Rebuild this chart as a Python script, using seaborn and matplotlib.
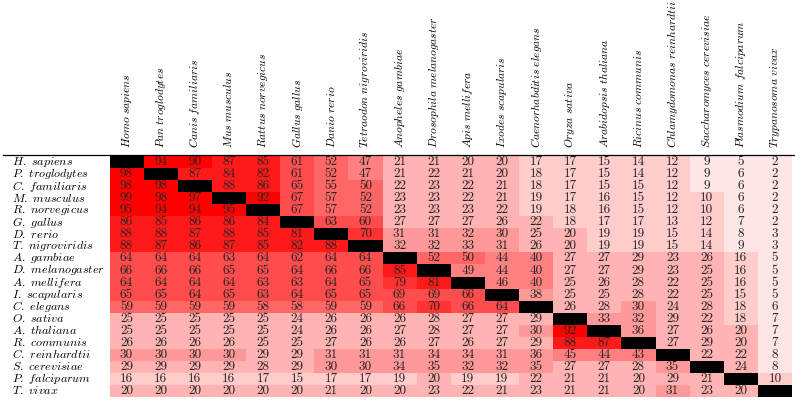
import numpy as np
import pandas as pd
import matplotlib
matplotlib.use("Agg")
import matplotlib.pyplot as plt
import seaborn as sns
from matplotlib.colors import ListedColormap

#%% data: percentage identity between species (diagonal left empty)

row_names = ["H. sapiens", "P. troglodytes", "C. familiaris", "M. musculus",
             "R. norvegicus", "G. gallus", "D. rerio", "T. nigroviridis",
             "A. gambiae", "D. melanogaster", "A. mellifera", "I. scapularis",
             "C. elegans", "O. sativa", "A. thaliana", "R. communis",
             "C. reinhardtii", "S. cerevisiae", "P. falciparum", "T. vivax"]

col_names = ["Homo sapiens", "Pan troglodytes", "Canis familiaris", "Mus musculus",
             "Rattus norvegicus", "Gallus gallus", "Danio rerio",
             "Tetraodon nigroviridis", "Anopheles gambiae", "Drosophila melanogaster",
             "Apis mellifera", "Ixodes scapularis", "Caenorhabditis elegans",
             "Oryza sativa", "Arabidopsis thaliana", "Ricinus communis",
             "Chlamydomonas reinhardtii", "Saccharomyces cerevisiae",
             "Plasmodium falciparum", "Trypanosoma vivax"]

identity = [
    [None, 94, 90, 87, 85, 61, 52, 47, 21, 21, 20, 20, 17, 17, 15, 14, 12, 9, 5, 2],
    [98, None, 87, 84, 82, 61, 52, 47, 21, 22, 21, 20, 18, 17, 15, 14, 12, 9, 6, 2],
    [98, 98, None, 88, 86, 65, 55, 50, 22, 23, 22, 21, 18, 17, 15, 15, 12, 9, 6, 2],
    [99, 98, 97, None, 92, 67, 57, 52, 23, 23, 22, 21, 19, 17, 16, 15, 12, 10, 6, 2],
    [95, 94, 94, 95, None, 67, 57, 52, 23, 23, 23, 22, 19, 18, 16, 15, 12, 10, 6, 2],
    [86, 85, 86, 86, 84, None, 63, 60, 27, 27, 27, 26, 22, 18, 17, 17, 13, 12, 7, 2],
    [88, 88, 87, 88, 85, 81, None, 70, 31, 31, 32, 30, 25, 20, 19, 19, 15, 14, 8, 3],
    [88, 87, 86, 87, 85, 82, 88, None, 32, 32, 33, 31, 26, 20, 19, 19, 15, 14, 9, 3],
    [64, 64, 64, 63, 64, 62, 64, 64, None, 52, 50, 44, 40, 27, 27, 29, 23, 26, 16, 5],
    [66, 66, 66, 65, 65, 64, 66, 66, 85, None, 49, 44, 40, 27, 27, 29, 23, 25, 16, 5],
    [64, 64, 64, 64, 63, 63, 64, 65, 79, 81, None, 46, 40, 25, 26, 28, 22, 25, 16, 5],
    [65, 65, 64, 65, 63, 64, 65, 65, 69, 69, 66, None, 38, 25, 25, 28, 22, 25, 15, 5],
    [59, 59, 59, 59, 58, 58, 59, 59, 66, 70, 66, 64, None, 26, 28, 30, 24, 28, 18, 6],
    [25, 25, 25, 25, 25, 24, 26, 26, 26, 28, 27, 27, 29, None, 33, 32, 29, 22, 18, 7],
    [25, 25, 25, 25, 25, 24, 26, 26, 27, 28, 27, 27, 30, 92, None, 36, 27, 26, 20, 7],
    [26, 26, 26, 26, 25, 25, 27, 26, 26, 27, 26, 27, 29, 88, 87, None, 27, 29, 20, 7],
    [30, 30, 30, 30, 29, 29, 31, 31, 31, 34, 34, 31, 36, 45, 44, 43, None, 22, 22, 8],
    [29, 29, 29, 29, 28, 29, 30, 30, 34, 35, 32, 32, 35, 27, 27, 28, 35, None, 24, 8],
    [16, 16, 16, 16, 17, 15, 17, 17, 19, 20, 19, 19, 22, 21, 21, 20, 29, 21, None, 10],
    [20, 20, 20, 20, 20, 20, 21, 20, 20, 23, 22, 21, 23, 21, 21, 20, 31, 23, 20, None],
]

# one shade of red per band of ten
shades = ["#ffe6e6", "#ffcccc", "#ffb3b3", "#ff9999", "#ff8080",
          "#ff6666", "#ff4d4d", "#ff3333", "#ff1a1a", "#ff0000"]

#%%

plt.rcParams["mathtext.fontset"] = "cm"

df = pd.DataFrame(np.array(identity, dtype=float),
                  index=[r"$" + n.replace(" ", r"\ ") + "$" for n in row_names],
                  columns=[r"$" + n.replace(" ", r"\ ") + "$" for n in col_names])

fig = plt.figure(figsize=(7.95, 4.0), dpi=100)
ax = fig.add_axes([109.5 / 795, 3 / 400, 682.5 / 795, 241 / 400])
ax.set_facecolor("black")

sns.heatmap(df, ax=ax, cmap=ListedColormap(shades), vmin=0, vmax=100,
            cbar=False, annot=True, fmt=".0f",
            xticklabels=True, yticklabels=True,
            annot_kws={"color": "#222222", "fontsize": 9.5, "family": "cmr10"})

ax.xaxis.tick_top()
ax.tick_params(axis="x", length=0, pad=6, labelsize=8.3)
ax.tick_params(axis="y", length=0, pad=70, labelsize=8.7)
plt.setp(ax.get_xticklabels(), rotation=90, ha="center", va="bottom")
plt.setp(ax.get_yticklabels(), rotation=0, ha="left", va="center")
ax.set_xlabel("")
ax.set_ylabel("")

# rule under the header
fig.add_artist(plt.Line2D([0.004, 1.0], [1 - 155 / 400] * 2,
                          transform=fig.transFigure, color="black", lw=0.9))

fig.savefig("out.png", dpi=100)
